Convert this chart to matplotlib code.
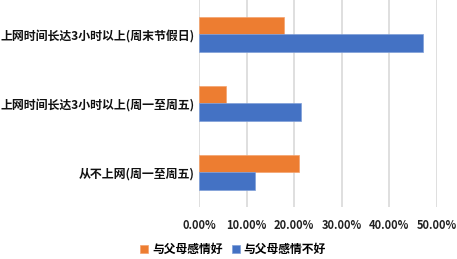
import numpy as np
import matplotlib.pyplot as plt
from matplotlib.ticker import PercentFormatter

plt.rcParams['font.family'] = ['Noto Sans CJK SC', 'DejaVu Sans']
plt.rcParams['font.weight'] = 'bold'

# categories, bottom to top
categories = ["从不上网(周一至周五)", "上网时间长达3小时以上(周一至周五)", "上网时间长达3小时以上(周末节假日)"]
good = [0.211, 0.056, 0.178]      # 与父母感情好
bad = [0.117, 0.215, 0.470]       # 与父母感情不好
xticks = [0, 0.1, 0.2, 0.3, 0.4, 0.5]

fig = plt.figure(figsize=(4.57, 2.59), dpi=100)
ax = fig.add_axes([0.4354, 0.2008, 0.5208, 0.7992])

y = np.arange(len(categories))
h = 0.26
ax.barh(y + h / 2, good, height=h, color="#ED7D31", edgecolor="#F4A36E", linewidth=0.5,
        label="与父母感情好", zorder=3)
ax.barh(y - h / 2, bad, height=h, color="#4472C4", edgecolor="#7F9FD8", linewidth=0.5,
        label="与父母感情不好", zorder=3)

ax.set_xlim(0, 0.5)
ax.set_ylim(-0.5, 2.5)
ax.set_xticks(xticks)
ax.xaxis.set_major_formatter(PercentFormatter(1.0, decimals=2))
ax.set_yticks(y)
ax.set_yticklabels(categories, fontsize=8.6, fontweight='heavy')
ax.tick_params(axis='x', labelsize=8, pad=9, length=0, colors='#222222')
ax.tick_params(axis='y', length=0, pad=3, colors='#111111')
ax.grid(axis='x', color='#d9d9d9', linewidth=1.2, zorder=0)
for s in ax.spines.values():
    s.set_visible(False)

ax.legend(loc='center', bbox_to_anchor=(0.51, 0.036), bbox_transform=fig.transFigure,
          ncol=2, frameon=False, fontsize=8.5, handlelength=0.7, handleheight=0.7,
          handletextpad=0.3, columnspacing=0.8)

fig.savefig("out.png", dpi=100)
